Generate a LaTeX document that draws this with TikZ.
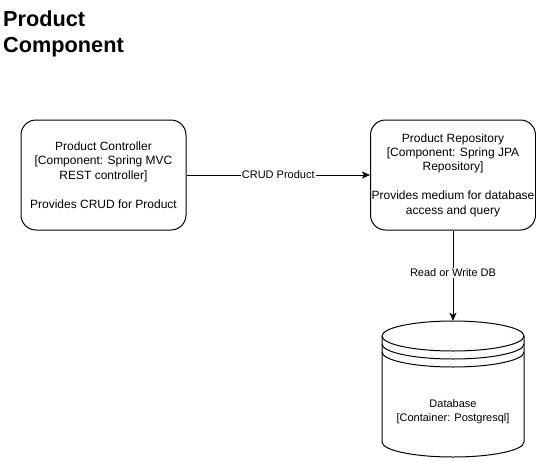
\documentclass[tikz,border=0pt]{standalone}
\usepackage{fontspec}
\setmainfont{Liberation Sans}
\usetikzlibrary{arrows.meta}
\begin{document}
\begin{tikzpicture}[x=1pt,y=-1pt,
  compbox/.style={draw, line width=1pt, rounded corners=15pt, minimum width=165pt, minimum height=110pt, align=center, font=\fontsize{12}{14.4}\selectfont, inner sep=0pt},
  conn/.style={draw, line width=1pt, -{Stealth[length=8pt,width=7pt,inset=2pt]}},
  elabel/.style={fill=white, font=\fontsize{11}{13.2}\selectfont, inner sep=1pt},
  cyl/.style={line width=1pt}
  ]
\useasboundingbox (0,0) rectangle (536,461);
\fill[white] (0,0) rectangle (536,461);

\node[anchor=north west, inner sep=0pt, align=left, font=\fontsize{21.7}{26}\selectfont\bfseries] (title) at (3,11) {Product\\Component};

\node[compbox] (ctrl) at (103.5,175) {Product Controller\\{}[Component: Spring MVC\\REST controller]\\\mbox{}\\Provides CRUD for Product};
\node[compbox] (repo) at (453,175) {Product Repository\\{}[Component: Spring JPA\\Repository]\\\mbox{}\\Provides medium for database\\access and query};

% database cylinder
\node[minimum width=142pt, minimum height=136pt, inner sep=0pt] (db) at (453,389) {};
\draw[cyl, fill=white] (382,336) -- (382,442) arc[start angle=180,end angle=0,x radius=71,y radius=15] -- (524,336) arc[start angle=0,end angle=-180,x radius=71,y radius=15] -- cycle;
\draw[cyl] (382,336) arc[start angle=180,end angle=0,x radius=71,y radius=15];
\draw[cyl] (382,344) arc[start angle=180,end angle=0,x radius=71,y radius=15];
\draw[cyl] (382,352) arc[start angle=180,end angle=0,x radius=71,y radius=15];
\node[font=\fontsize{11}{14}\selectfont, align=center, inner sep=0pt] (dbtext) at (453,412) {Database\\{}[Container: Postgresql]};

\draw[conn] (ctrl.east) -- node[elabel]{CRUD Product} (repo.west);
\draw[conn] (repo.south) -- node[elabel, pos=0.47]{Read or Write DB} (db.north);
\end{tikzpicture}
\end{document}
